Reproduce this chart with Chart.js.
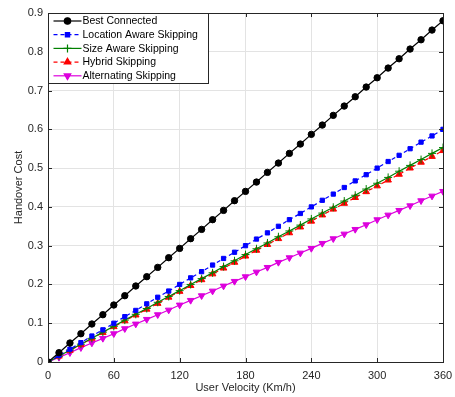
<!DOCTYPE html>
<html>
<head>
<meta charset="utf-8">
<script src="https://cdn.jsdelivr.net/npm/chart.js@4/dist/chart.umd.min.js"></script>
<style>
  html, body { margin: 0; padding: 0; background: #fff; }
  #wrap { width: 455px; height: 397px; position: relative; }
</style>
</head>
<body>
<div id="wrap"><canvas id="chart" width="455" height="397"></canvas></div>
<script>
// velocities (Km/h)
const velocity = [0, 10, 20, 30, 40, 50, 60, 70, 80, 90, 100, 110, 120, 130, 140, 150, 160, 170, 180,
    190, 200, 210, 220, 230, 240, 250, 260, 270, 280, 290, 300, 310, 320, 330, 340, 350, 360];

const bestConnected = [0, 0.024, 0.049, 0.073, 0.098, 0.122, 0.147, 0.171, 0.196, 0.22, 0.244, 0.269,
    0.293, 0.318, 0.342, 0.367, 0.391, 0.416, 0.44, 0.464, 0.489, 0.513, 0.538, 0.562, 0.587, 0.611,
    0.636, 0.66, 0.684, 0.709, 0.733, 0.758, 0.782, 0.807, 0.831, 0.856, 0.88];
const locationAware = [0, 0.017, 0.033, 0.05, 0.067, 0.083, 0.1, 0.117, 0.133, 0.15, 0.167, 0.183,
    0.2, 0.217, 0.233, 0.25, 0.267, 0.283, 0.3, 0.317, 0.333, 0.35, 0.367, 0.383, 0.4, 0.417, 0.433,
    0.45, 0.467, 0.483, 0.5, 0.517, 0.533, 0.55, 0.567, 0.583, 0.6];
const sizeAware = [0, 0.015, 0.031, 0.046, 0.061, 0.077, 0.092, 0.108, 0.123, 0.138, 0.154, 0.169,
    0.184, 0.2, 0.215, 0.23, 0.246, 0.261, 0.277, 0.292, 0.307, 0.323, 0.338, 0.353, 0.369, 0.384,
    0.399, 0.415, 0.43, 0.446, 0.461, 0.476, 0.492, 0.507, 0.522, 0.538, 0.553];
const hybrid = [0, 0.015, 0.03, 0.045, 0.061, 0.076, 0.091, 0.106, 0.121, 0.136, 0.151, 0.167,
    0.182, 0.197, 0.212, 0.227, 0.242, 0.257, 0.273, 0.288, 0.303, 0.318, 0.333, 0.348, 0.363, 0.379,
    0.394, 0.409, 0.424, 0.439, 0.454, 0.469, 0.484, 0.5, 0.515, 0.53, 0.545];
const alternating = [0, 0.012, 0.024, 0.037, 0.049, 0.061, 0.073, 0.086, 0.098, 0.11, 0.122, 0.134,
    0.147, 0.159, 0.171, 0.183, 0.196, 0.208, 0.22, 0.232, 0.244, 0.257, 0.269, 0.281, 0.293, 0.306,
    0.318, 0.33, 0.342, 0.354, 0.367, 0.379, 0.391, 0.403, 0.416, 0.428, 0.44];

const seriesNames = ["Best Connected", "Location Aware Skipping", "Size Aware Skipping",
    "Hybrid Skipping", "Alternating Skipping"];

const xTicks = [0, 60, 120, 180, 240, 300, 360];
const yTicks = [0, 0.1, 0.2, 0.3, 0.4, 0.5, 0.6, 0.7, 0.8, 0.9];

const FONT = "Liberation Sans, Arial, Helvetica, sans-serif";

const toPoints = (ys) => velocity.map((v, i) => ({ x: v, y: ys[i] }));

const mkSet = (label, ys, color, style, dash, rot, rad) => ({
    label: label,
    data: toPoints(ys),
    borderColor: color,
    backgroundColor: color,
    pointBackgroundColor: color,
    pointBorderColor: color,
    pointStyle: style,
    pointRotation: rot || 0,
    pointRadius: rad,
    pointBorderWidth: 1,
    borderWidth: 1.2,
    borderDash: dash,
    tension: 0,
});

// box, inner ticks and the legend in matlab style
const matlabBox = {
    id: "matlabBox",
    afterDraw(chart) {
        const ctx = chart.ctx;
        const a = chart.chartArea;
        const xs = chart.scales.x, ys = chart.scales.y;
        ctx.save();
        ctx.strokeStyle = "#262626";
        ctx.lineWidth = 1;
        ctx.beginPath();
        for (const t of xTicks) {
            const px = Math.round(xs.getPixelForValue(t)) + 0.5;
            ctx.moveTo(px, a.bottom); ctx.lineTo(px, a.bottom - 4);
            ctx.moveTo(px, a.top); ctx.lineTo(px, a.top + 4);
        }
        for (const t of yTicks) {
            const py = Math.round(ys.getPixelForValue(t)) + 0.5;
            ctx.moveTo(a.left, py); ctx.lineTo(a.left + 4, py);
            ctx.moveTo(a.right, py); ctx.lineTo(a.right - 4, py);
        }
        ctx.stroke();
        ctx.strokeRect(Math.round(a.left) + 0.5, Math.round(a.top) + 0.5,
            Math.round(a.right - a.left), Math.round(a.bottom - a.top));

        // legend
        const lx = Math.round(a.left) + 0.5, ly = Math.round(a.top) + 0.5;
        const lw = 160, lh = 70;
        ctx.fillStyle = "#fff";
        ctx.fillRect(lx, ly, lw, lh);
        ctx.strokeStyle = "#262626";
        ctx.strokeRect(lx, ly, lw, lh);
        ctx.font = "10.5px " + FONT;
        ctx.textBaseline = "middle";
        chart.data.datasets.forEach((ds, i) => {
            const y = ly + 7.5 + i * 13.7;
            ctx.strokeStyle = ds.borderColor;
            ctx.lineWidth = 1.2;
            ctx.setLineDash(ds.borderDash || []);
            ctx.beginPath();
            ctx.moveTo(lx + 5, y); ctx.lineTo(lx + 33, y);
            ctx.stroke();
            ctx.setLineDash([]);
            Chart.helpers.drawPoint(ctx, {
                pointStyle: ds.pointStyle, rotation: ds.pointRotation,
                radius: ds.pointRadius, borderWidth: 1
            }, lx + 19, y);
            ctx.fillStyle = ds.borderColor;
            ctx.fill();
            ctx.fillStyle = "#000";
            ctx.fillText(ds.label, lx + 34, y + 0.5);
        });
        ctx.restore();
    }
};

const ctx = document.getElementById("chart").getContext("2d");
const myChart = new Chart(ctx, {
    type: "line",
    data: {
        datasets: [
            mkSet(seriesNames[0], bestConnected, "#000000", "circle", [], 0, 3.2),
            mkSet(seriesNames[1], locationAware, "#0000ff", "rect", [4, 3], 0, 3),
            mkSet(seriesNames[2], sizeAware, "#008000", "cross", [], 0, 4),
            mkSet(seriesNames[3], hybrid, "#ff0000", "triangle", [4, 3], 0, 3.8),
            mkSet(seriesNames[4], alternating, "#dd00dd", "triangle", [], 180, 3.8),
        ],
    },
    options: {
        responsive: false,
        animation: false,
        layout: { padding: { left: 12, right: 12, top: 13, bottom: 2 } },
        plugins: { legend: { display: false }, tooltip: { enabled: false } },
        scales: {
            x: {
                type: "linear", min: 0, max: 360,
                afterBuildTicks: (s) => { s.ticks = xTicks.map(v => ({ value: v })); },
                afterFit: (s) => { s.height = 33; s.paddingLeft = 0; s.paddingRight = 0; },
                grid: { color: "#e3e3e3", drawTicks: false },
                border: { display: false },
                ticks: { color: "#262626", font: { family: FONT, size: 11 }, padding: 7, maxRotation: 0 },
                title: { display: true, text: "User Velocity (Km/h)", color: "#262626",
                    font: { family: FONT, size: 11 }, padding: { top: 0, bottom: 0 } },
            },
            y: {
                type: "linear", min: 0, max: 0.9,
                afterBuildTicks: (s) => { s.ticks = yTicks.map(v => ({ value: v })); },
                afterFit: (s) => { s.width = 36; s.paddingTop = 0; s.paddingBottom = 0; },
                grid: { color: "#e3e3e3", drawTicks: false },
                border: { display: false },
                ticks: { color: "#262626", font: { family: FONT, size: 11 }, padding: 5,
                    callback: (v) => String(+v.toFixed(1)) },
                title: { display: true, text: "Handover Cost", color: "#262626",
                    font: { family: FONT, size: 11 }, padding: { top: 0, bottom: 4 } },
            },
        },
    },
    plugins: [matlabBox],
});
</script>
</body>
</html>
